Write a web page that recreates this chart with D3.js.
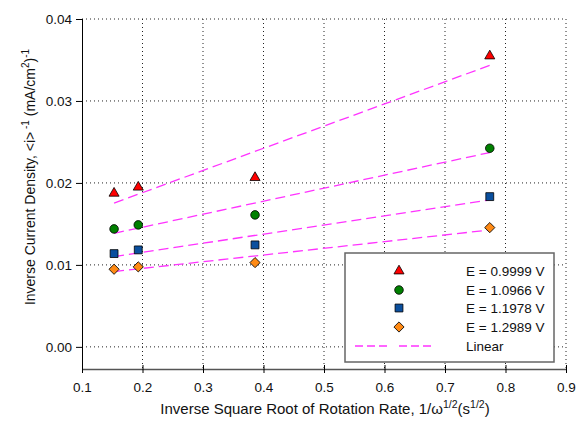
<!DOCTYPE html>
<html>
<head>
<meta charset="utf-8">
<script src="https://cdn.jsdelivr.net/npm/d3@7"></script>
<style>
  html, body { margin: 0; padding: 0; background: #fff; }
  svg { display: block; font-family: "Liberation Sans", Arial, sans-serif; }
</style>
</head>
<body>
<svg id="chart" width="576" height="430"></svg>
<script>
// Inverse rotation-rate values (s^1/2)
const xValues = [0.153, 0.193, 0.386, 0.774];
// Inverse current density for each potential
const seriesNames = ["E = 0.9999 V", "E = 1.0966 V", "E = 1.1978 V", "E = 1.2989 V"];
const yE0999 = [0.01874, 0.01948, 0.02065, 0.03549];
const yE1097 = [0.01439, 0.01488, 0.01610, 0.02423];
const yE1198 = [0.01138, 0.01183, 0.01244, 0.01833];
const yE1299 = [0.00947, 0.00976, 0.01028, 0.01455];
const xTicks = [0.1, 0.2, 0.3, 0.4, 0.5, 0.6, 0.7, 0.8, 0.9];
const yTicks = [0.00, 0.01, 0.02, 0.03, 0.04];

const seriesValues = [yE0999, yE1097, yE1198, yE1299];
// marker shape, area and rotation per series (diamond = square turned 45°)
const symbols = [d3.symbolTriangle, d3.symbolCircle, d3.symbolSquare, d3.symbolSquare];
const symbolSizes = [44, 58, 62, 52];
const symbolRot = [0, 0, 0, 45];
const fills = ["#ff0000", "#008000", "#0a4f9e", "#ff8a14"];
const fitColor = "#ff33ff";

const svg = d3.select("#chart");
const plotL = 82, plotR = 566, plotT = 19, plotB = 369;

const x = d3.scaleLinear().domain([0.1, 0.9]).range([plotL, plotR]);
const y = d3.scaleLinear().domain([-0.0027, 0.04]).range([plotB, plotT]);

// dotted grid
const grid = svg.append("g");
grid.selectAll("line.v").data(xTicks.slice(1)).join("line")
  .attr("x1", d => x(d)).attr("x2", d => x(d))
  .attr("y1", plotT).attr("y2", plotB)
  .attr("stroke", "#222").attr("stroke-width", 1)
  .attr("stroke-dasharray", "1,3");
grid.selectAll("line.h").data(yTicks).join("line")
  .attr("x1", plotL).attr("x2", plotR)
  .attr("y1", d => y(d)).attr("y2", d => y(d))
  .attr("stroke", "#222").attr("stroke-width", 1)
  .attr("stroke-dasharray", "1,3");

// axes
const xAxis = d3.axisBottom(x).tickValues(xTicks).tickFormat(d3.format(".1f"))
  .tickSizeInner(4).tickSizeOuter(0).tickPadding(9);
const gx = svg.append("g").attr("transform", `translate(0,${plotB})`).call(xAxis);
gx.select(".domain").attr("stroke", "#555").attr("stroke-width", 1.6);
gx.selectAll(".tick line").attr("y1", -4).attr("stroke", "#000");
gx.selectAll(".tick text").attr("font-size", 13.5).attr("fill", "#111")
  .attr("font-family", "Liberation Sans, Arial, sans-serif");

const yAxis = d3.axisLeft(y).tickValues(yTicks).tickFormat(d3.format(".2f"))
  .tickSizeInner(6).tickSizeOuter(0).tickPadding(4);
const gy = svg.append("g").attr("transform", `translate(${plotL},0)`).call(yAxis);
gy.select(".domain").attr("d", `M0.5,${plotT}V${plotB + 4}`).attr("stroke", "#000");
gy.selectAll(".tick text").attr("font-size", 13.5).attr("fill", "#111")
  .attr("font-family", "Liberation Sans, Arial, sans-serif");

// least-squares fit lines
function fit(xs, ys) {
  const mx = d3.mean(xs), my = d3.mean(ys);
  const sxy = d3.sum(xs, (v, i) => (v - mx) * (ys[i] - my));
  const sxx = d3.sum(xs, v => (v - mx) * (v - mx));
  const b = sxy / sxx;
  return { a: my - b * mx, b };
}
const xExt = d3.extent(xValues);
const fits = svg.append("g");
seriesValues.forEach(ys => {
  const f = fit(xValues, ys);
  fits.append("line")
    .attr("x1", x(xExt[0])).attr("y1", y(f.a + f.b * xExt[0]))
    .attr("x2", x(xExt[1])).attr("y2", y(f.a + f.b * xExt[1]))
    .attr("stroke", fitColor).attr("stroke-width", 1.3)
    .attr("stroke-dasharray", "10,5");
});

// data markers
const marks = svg.append("g");
seriesValues.forEach((ys, s) => {
  marks.selectAll(null).data(ys).join("path")
    .attr("d", d3.symbol(symbols[s], symbolSizes[s]))
    .attr("transform", (d, i) => `translate(${x(xValues[i])},${y(d)}) rotate(${symbolRot[s]})`)
    .attr("fill", fills[s]).attr("stroke", "#000").attr("stroke-width", 0.8);
});

// legend
const lg = svg.append("g");
lg.append("rect").attr("x", 345).attr("y", 253).attr("width", 209).attr("height", 109)
  .attr("fill", "#fff").attr("stroke", "#666").attr("stroke-width", 1.5);
const rowY = [271, 290, 308, 327, 346];
seriesNames.forEach((name, s) => {
  lg.append("path").attr("d", d3.symbol(symbols[s], symbolSizes[s]))
    .attr("transform", `translate(399,${rowY[s]}) rotate(${symbolRot[s]})`)
    .attr("fill", fills[s]).attr("stroke", "#000").attr("stroke-width", 0.8);
  lg.append("text").attr("x", 466).attr("y", rowY[s] + 5)
    .attr("font-size", 13.5).attr("fill", "#111").text(name);
});
[[355, 388], [399, 434]].forEach(([a, b]) => {
  lg.append("line").attr("x1", a).attr("x2", b).attr("y1", rowY[4]).attr("y2", rowY[4])
    .attr("stroke", fitColor).attr("stroke-width", 1.3).attr("stroke-dasharray", "8,4");
});
lg.append("text").attr("x", 466).attr("y", rowY[4] + 5)
  .attr("font-size", 13.5).attr("fill", "#111").text("Linear");

// axis titles
const xt = svg.append("text").attr("x", 325).attr("y", 414)
  .attr("text-anchor", "middle").attr("font-size", 15).attr("fill", "#111");
xt.append("tspan").text("Inverse Square Root of Rotation Rate, 1/ω");
xt.append("tspan").attr("dy", -6).attr("font-size", 10.5).text("1/2");
xt.append("tspan").attr("dy", 6).text("(s");
xt.append("tspan").attr("dy", -6).attr("font-size", 10.5).text("1/2");
xt.append("tspan").attr("dy", 6).text(")");

const yt = svg.append("text").attr("transform", "translate(35,177) rotate(-90)")
  .attr("text-anchor", "middle").attr("font-size", 14).attr("fill", "#111");
yt.append("tspan").text("Inverse Current Density, <i>");
yt.append("tspan").attr("dy", -6).attr("font-size", 10).text(" -1");
yt.append("tspan").attr("dy", 6).text("  (mA/cm");
yt.append("tspan").attr("dy", -6).attr("font-size", 10).text("2");
yt.append("tspan").attr("dy", 6).text(")");
yt.append("tspan").attr("dy", -6).attr("font-size", 10).text("-1");
</script>
</body>
</html>
